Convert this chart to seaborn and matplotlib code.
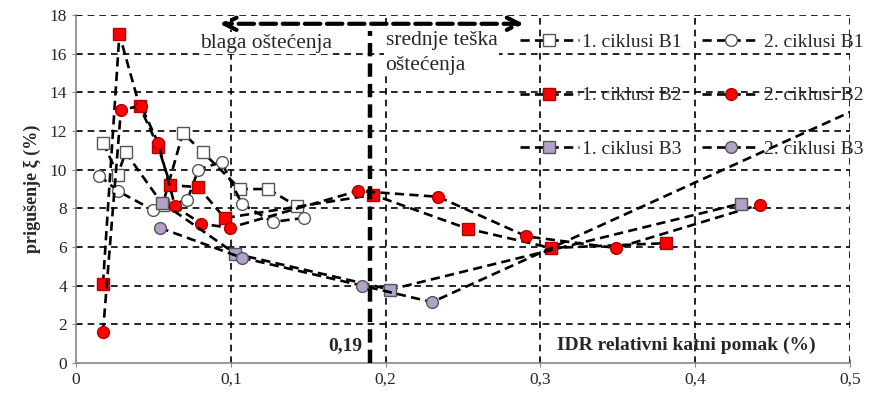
import numpy as np
import pandas as pd
import matplotlib
matplotlib.use("Agg")
import matplotlib.pyplot as plt
import seaborn as sns

# --- DATA ---
b1_c1_x = [0.0174, 0.027, 0.032, 0.056, 0.069, 0.082, 0.106, 0.124, 0.143]
b1_c1_y = [11.4, 9.75, 10.9, 8.2, 11.9, 10.9, 9.0, 9.0, 8.1]
b1_c2_x = [0.015, 0.027, 0.050, 0.072, 0.079, 0.094, 0.107, 0.127, 0.147]
b1_c2_y = [9.7, 8.9, 7.9, 8.45, 10.0, 10.4, 8.25, 7.3, 7.5]

b2_c1_x = [0.0174, 0.028, 0.041, 0.053, 0.061, 0.079, 0.096, 0.192, 0.253, 0.307, 0.381]
b2_c1_y = [4.1, 17.0, 13.3, 11.2, 9.2, 9.1, 7.5, 8.7, 6.95, 5.95, 6.2]
b2_c2_x = [0.0174, 0.029, 0.042, 0.053, 0.064, 0.081, 0.0995, 0.182, 0.234, 0.291, 0.349, 0.442]
b2_c2_y = [1.6, 13.1, 13.3, 11.4, 8.1, 7.2, 7.0, 8.9, 8.6, 6.55, 5.95, 8.2]

b3_c1_x = [0.0555, 0.103, 0.203, 0.4295]
b3_c1_y = [8.3, 5.65, 3.8, 8.25]
b3_c2_x = [0.054, 0.107, 0.185, 0.230, 0.55]
b3_c2_y = [7.0, 5.45, 4.0, 3.15, 14.8]

labels = ["1. ciklusi B1", "2. ciklusi B1", "1. ciklusi B2",
          "2. ciklusi B2", "1. ciklusi B3", "2. ciklusi B3"]

IDR_LIMIT = 0.19
x_ticks = [0, 0.1, 0.2, 0.3, 0.4, 0.5]
x_tick_labels = ["0", "0,1", "0,2", "0,3", "0,4", "0,5"]
y_ticks = list(range(0, 19, 2))

# --- STYLE ---
sns.set_style("white")
plt.rcParams['font.family'] = ['Liberation Serif', 'DejaVu Serif']

series = [
    (b1_c1_x, b1_c1_y, 's', 'white', '#555555'),
    (b1_c2_x, b1_c2_y, 'o', 'white', '#555555'),
    (b2_c1_x, b2_c1_y, 's', '#FF0000', '#B00000'),
    (b2_c2_x, b2_c2_y, 'o', '#FF0000', '#B00000'),
    (b3_c1_x, b3_c1_y, 's', '#B3A2C7', '#555555'),
    (b3_c2_x, b3_c2_y, 'o', '#B3A2C7', '#555555'),
]

fig, ax = plt.subplots(figsize=(8.74, 3.97), dpi=100)
fig.subplots_adjust(left=0.087, right=0.9725, bottom=0.0856, top=0.962)

# dashed grid
for yv in y_ticks[1:]:
    ax.axhline(yv, color='black', lw=1.2, ls=(0, (4, 3)), zorder=1)
for xv in x_ticks[1:]:
    ax.axvline(xv, color='black', lw=1.2, ls=(0, (4, 3)), zorder=1)

for (xs, ys, mk, fc, ec), lab in zip(series, labels):
    df = pd.DataFrame({'x': xs, 'y': ys})
    sns.lineplot(data=df, x='x', y='y', sort=False, estimator=None, ax=ax,
                 color='black', lw=1.9, linestyle=(0, (3.5, 2)),
                 marker=mk, markersize=8.5, markerfacecolor=fc,
                 markeredgecolor=ec, markeredgewidth=1.0, label=lab, zorder=3)

# damage limit line and arrow
ax.plot([IDR_LIMIT, IDR_LIMIT], [0, 17.2], color='black', lw=3.2,
        ls=(0, (3, 1.6)), zorder=4)
ax.annotate('', xy=(0.091, 17.55), xytext=(0.291, 17.55),
            arrowprops=dict(arrowstyle='<->', lw=3, ls='--', color='black',
                            mutation_scale=22), zorder=4)

ax.text(0.08, 16.55, "blaga oštećenja", fontsize=15.5, va='center', ha='left',
        bbox=dict(fc='white', ec='none', pad=1), zorder=2)
ax.text(0.2, 17.2, "srednje teška\noštećenja", fontsize=15.5, va='top', ha='left',
        linespacing=1.45, bbox=dict(fc='white', ec='none', pad=1), zorder=2)
ax.text(0.174, 0.9, "0,19", fontsize=14, fontweight='bold', ha='center', va='center')
ax.text(0.394, 0.9, "IDR relativni katni pomak (%)", fontsize=14, fontweight='bold',
        ha='center', va='center')

ax.set_xlim(0, 0.5)
ax.set_ylim(0, 18)
ax.set_xticks(x_ticks)
ax.set_xticklabels(x_tick_labels)
ax.set_yticks(y_ticks)
ax.tick_params(direction='inout', length=6, color='#888888', labelsize=12.5,
               left=True, bottom=True)
ax.set_xlabel('')
ax.set_ylabel("prigušenje ξ (%)", fontsize=13, fontweight='bold', labelpad=6)

for side in ['top', 'right']:
    ax.spines[side].set_visible(False)
for side in ['left', 'bottom']:
    ax.spines[side].set_color('#888888')
    ax.spines[side].set_linewidth(1.2)

h, l = ax.get_legend_handles_labels()
order = [0, 2, 4, 1, 3, 5]
ax.legend([h[i] for i in order], [l[i] for i in order], ncol=2, frameon=False,
          loc='upper left', bbox_to_anchor=(0.574, 0.948), fontsize=14,
          handlelength=3.0, handletextpad=0.2, columnspacing=1.0,
          labelspacing=1.85, borderpad=0, borderaxespad=0)

plt.savefig("out.png", dpi=100)
